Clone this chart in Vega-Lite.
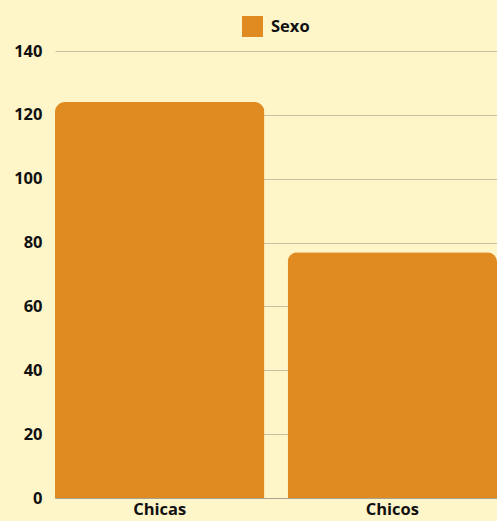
{
  "$schema": "https://vega.github.io/schema/vega-lite/v6.json",
  "autosize": {"type": "fit", "contains": "padding"},
  "width": 497,
  "height": 521,
  "padding": {"left": 13, "top": 16, "right": 0, "bottom": 3},
  "background": "#fef5c9",
  "config": {
    "view": {"stroke": null},
    "font": "Open Sans",
    "legend": {"layout": {"top": {"anchor": "middle"}}}
  },
  "data": {
    "values": [
      {"sexo": "Chicas", "valor": 124, "serie": "Sexo"},
      {"sexo": "Chicos", "valor": 77, "serie": "Sexo"}
    ]
  },
  "mark": {"type": "bar", "cornerRadiusTopLeft": 10, "cornerRadiusTopRight": 10},
  "encoding": {
    "x": {
      "field": "sexo",
      "type": "nominal",
      "scale": {"paddingInner": 0.1, "paddingOuter": 0},
      "axis": {
        "title": null,
        "labelAngle": 0,
        "ticks": false,
        "domainColor": "#a8a290",
        "labelFont": "Open Sans",
        "labelFontWeight": "bold",
        "labelFontSize": 16.5,
        "labelColor": "#111111",
        "labelPadding": 3
      }
    },
    "y": {
      "field": "valor",
      "type": "quantitative",
      "scale": {"domain": [0, 140]},
      "axis": {
        "title": null,
        "values": [0, 20, 40, 60, 80, 100, 120, 140],
        "domain": false,
        "ticks": false,
        "gridColor": "#c8c0a0",
        "labelFont": "Open Sans",
        "labelFontWeight": "bold",
        "labelFontSize": 16.5,
        "labelColor": "#111111",
        "labelPadding": 13
      }
    },
    "color": {
      "field": "serie",
      "type": "nominal",
      "scale": {"range": ["#e08a22"]},
      "legend": {
        "title": null,
        "orient": "top",
        "symbolType": "square",
        "symbolSize": 441,
        "symbolStrokeWidth": 0,
        "labelFont": "Open Sans",
        "labelFontWeight": "bold",
        "labelFontSize": 16.5,
        "labelColor": "#111111",
        "labelOffset": 8,
        "offset": 14
      }
    }
  }
}
